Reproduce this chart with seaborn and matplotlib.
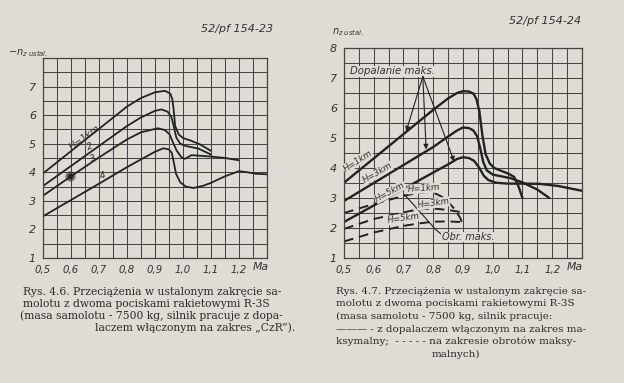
import numpy as np
import pandas as pd
import matplotlib
matplotlib.use("Agg")
import matplotlib.pyplot as plt
import seaborn as sns

# ---------------- data: Rys. 4.6 (left) ----------------
L_H1_MA = [0.50, 0.60, 0.70, 0.80, 0.85, 0.90, 0.936, 0.955, 0.962, 0.966, 0.972, 0.985, 1.00, 1.03, 1.06, 1.10]
L_H1_NZ = [3.96, 4.74, 5.52, 6.30, 6.60, 6.80, 6.85, 6.75, 6.55, 6.25, 5.62, 5.32, 5.20, 5.10, 4.98, 4.75]
L_H2_MA = [0.50, 0.60, 0.70, 0.80, 0.85, 0.90, 0.924, 0.945, 0.958, 0.966, 0.976, 0.99, 1.01, 1.055, 1.10]
L_H2_NZ = [3.52, 4.22, 4.92, 5.62, 5.92, 6.15, 6.20, 6.12, 5.95, 5.65, 5.22, 5.00, 4.92, 4.83, 4.62]
L_H3_MA = [0.50, 0.60, 0.70, 0.80, 0.85, 0.91, 0.935, 0.952, 0.966, 0.978, 0.995, 1.007, 1.03, 1.06, 1.10, 1.15, 1.20]
L_H3_NZ = [3.18, 3.86, 4.52, 5.15, 5.40, 5.54, 5.48, 5.33, 5.00, 4.75, 4.52, 4.47, 4.60, 4.58, 4.55, 4.50, 4.42]
L_H4_MA = [0.50, 0.60, 0.70, 0.80, 0.85, 0.90, 0.93, 0.95, 0.96, 0.966, 0.975, 0.99, 1.01, 1.037, 1.07, 1.10, 1.15, 1.20, 1.23, 1.26, 1.30]
L_H4_NZ = [2.46, 3.03, 3.60, 4.18, 4.45, 4.72, 4.84, 4.80, 4.68, 4.40, 3.95, 3.65, 3.50, 3.45, 3.52, 3.63, 3.86, 4.04, 4.00, 3.95, 3.93]
L_LABELS = ["H=1km", "2", "3", "4"]

# ---------------- data: Rys. 4.7 (right) ----------------
R_S1_MA = [0.50, 0.60, 0.70, 0.80, 0.85, 0.88, 0.90, 0.92, 0.935, 0.945, 0.955, 0.965, 0.976, 0.99, 1.005, 1.03, 1.055, 1.072, 1.086, 1.10]
R_S1_NZ = [3.51, 4.32, 5.13, 5.94, 6.32, 6.50, 6.56, 6.55, 6.48, 6.30, 5.90, 5.10, 4.46, 4.15, 4.00, 3.90, 3.80, 3.70, 3.40, 3.00]
R_S3_MA = [0.50, 0.60, 0.70, 0.80, 0.85, 0.88, 0.90, 0.92, 0.935, 0.948, 0.958, 0.968, 0.98, 1.00, 1.03, 1.06, 1.10, 1.15, 1.19]
R_S3_NZ = [2.90, 3.50, 4.10, 4.70, 5.05, 5.25, 5.35, 5.33, 5.25, 5.05, 4.65, 4.20, 3.92, 3.78, 3.72, 3.66, 3.52, 3.28, 3.00]
R_S5_MA = [0.50, 0.60, 0.70, 0.80, 0.85, 0.88, 0.90, 0.92, 0.937, 0.954, 0.97, 0.985, 1.01, 1.05, 1.10, 1.16, 1.22, 1.30]
R_S5_NZ = [2.20, 2.75, 3.30, 3.85, 4.12, 4.30, 4.36, 4.33, 4.24, 4.02, 3.74, 3.60, 3.51, 3.48, 3.48, 3.47, 3.40, 3.24]
R_D1_MA = [0.50, 0.60, 0.70, 0.75, 0.78, 0.81, 0.84, 0.87, 0.89, 0.90]
R_D1_NZ = [2.50, 2.80, 3.07, 3.17, 3.20, 3.14, 2.98, 2.65, 2.35, 2.10]
R_D3_MA = [0.50, 0.60, 0.70, 0.75, 0.80, 0.85, 0.90]
R_D3_NZ = [1.97, 2.30, 2.52, 2.62, 2.65, 2.60, 2.52]
R_D5_MA = [0.50, 0.60, 0.70, 0.75, 0.80, 0.85, 0.89]
R_D5_NZ = [1.55, 1.85, 2.07, 2.15, 2.21, 2.22, 2.20]

X_TICKS = [0.5, 0.6, 0.7, 0.8, 0.9, 1.0, 1.1, 1.2]
X_TICK_LABELS = ["0,5", "0,6", "0,7", "0,8", "0,9", "1,0", "1,1", "1,2"]

ARROW_FROM = (0.765, 7.05)
ARROW_TO = [(0.709, 5.22), (0.776, 4.62), (0.870, 4.22)]
OBR_LINE_MA = [0.703, 0.808, 0.826]
OBR_LINE_NZ = [3.12, 1.95, 1.80]

CAP_L = ["Rys. 4.6. Przeciążenia w ustalonym zakręcie sa-",
         "molotu z dwoma pociskami rakietowymi R-3S",
         "(masa samolotu - 7500 kg, silnik pracuje z dopa-",
         "laczem włączonym na zakres „CzR”)."]
CAP_R = ["Rys. 4.7. Przeciążenia w ustalonym zakręcie sa-",
         "molotu z dwoma pociskami rakietowymi R-3S",
         "(masa samolotu - 7500 kg, silnik pracuje:",
         "——— - z dopalaczem włączonym na zakres ma-",
         "ksymalny;  - - - - - na zakresie obrotów maksy-",
         "malnych)"]

# ---------------- style ----------------
BG = "#dfdcd5"
INK = "#232323"
GRID = "#454545"
sns.set_style("white", {"axes.facecolor": BG, "figure.facecolor": BG,
                        "axes.edgecolor": GRID})
plt.rcParams["font.family"] = ["DejaVu Sans"]

W, H = 624, 383
fig = plt.figure(figsize=(W / 100, H / 100), dpi=100)
fig.patch.set_facecolor(BG)


def px_axes(x0, y0, x1, y1):
    return fig.add_axes([x0 / W, 1 - y1 / H, (x1 - x0) / W, (y1 - y0) / H])


axL = px_axes(43, 58, 267, 258)
axR = px_axes(344, 48, 582, 258)

hand = dict(fontstyle="italic", color="#333333")


def setup(ax, ylabels):
    ax.set_facecolor(BG)
    ax.set_xlim(0.5, 1.3)
    ax.set_ylim(1, 8)
    ax.set_xticks(X_TICKS)
    ax.set_xticklabels(X_TICK_LABELS, fontsize=7.3, **hand)
    ax.set_xticks(np.arange(0.5, 1.3001, 0.05), minor=True)
    ax.set_yticks(range(1, 9))
    ax.set_yticklabels(ylabels, fontsize=8, **hand)
    ax.set_yticks(np.arange(1, 8.001, 0.5), minor=True)
    ax.grid(True, which="both", color=GRID, lw=0.75)
    ax.tick_params(which="both", length=0, pad=5)
    for s in ax.spines.values():
        s.set_color(GRID)
        s.set_linewidth(0.9)
    ax.set_xlabel("")
    ax.set_ylabel("")
    ax.text(1.277, 0.70, "Ma", fontsize=7.8, ha="center", va="center",
            transform=ax.transData, clip_on=False, **hand)


# ---------------- left chart ----------------
left_df = pd.concat([
    pd.DataFrame({"Ma": L_H1_MA, "nz": L_H1_NZ, "H": "1"}),
    pd.DataFrame({"Ma": L_H2_MA, "nz": L_H2_NZ, "H": "2"}),
    pd.DataFrame({"Ma": L_H3_MA, "nz": L_H3_NZ, "H": "3"}),
    pd.DataFrame({"Ma": L_H4_MA, "nz": L_H4_NZ, "H": "4"}),
])
sns.lineplot(data=left_df, x="Ma", y="nz", units="H", estimator=None, sort=False,
             color=INK, lw=1.3, ax=axL, legend=False)
setup(axL, ["1", "2", "3", "4", "5", "6", "7", ""])
lab_kw = dict(fontsize=6.8, ha="center", va="center", **hand)
axL.text(0.650, 5.22, L_LABELS[0], rotation=36, **lab_kw)
axL.text(0.668, 4.90, L_LABELS[1], rotation=20, **lab_kw)
axL.text(0.680, 4.47, L_LABELS[2], rotation=20, **lab_kw)
axL.text(0.712, 3.87, L_LABELS[3], rotation=20, **lab_kw)
# scan smudge
axL.scatter([0.597], [3.88], s=55, color="#2b2b2b", alpha=0.55, lw=0, zorder=1)
axL.scatter([0.597], [3.88], s=18, color="#1a1a1a", alpha=0.8, lw=0, zorder=1)

# ---------------- right chart ----------------
right_solid = pd.concat([
    pd.DataFrame({"Ma": R_S1_MA, "nz": R_S1_NZ, "H": "1"}),
    pd.DataFrame({"Ma": R_S3_MA, "nz": R_S3_NZ, "H": "3"}),
    pd.DataFrame({"Ma": R_S5_MA, "nz": R_S5_NZ, "H": "5"}),
])
right_dash = pd.concat([
    pd.DataFrame({"Ma": R_D1_MA, "nz": R_D1_NZ, "H": "1"}),
    pd.DataFrame({"Ma": R_D3_MA, "nz": R_D3_NZ, "H": "3"}),
    pd.DataFrame({"Ma": R_D5_MA, "nz": R_D5_NZ, "H": "5"}),
])
sns.lineplot(data=right_solid, x="Ma", y="nz", units="H", estimator=None, sort=False,
             color=INK, lw=1.7, ax=axR, legend=False)
sns.lineplot(data=right_dash, x="Ma", y="nz", units="H", estimator=None, sort=False,
             color=INK, lw=1.4, ax=axR, legend=False, dashes=False)
for ln in axR.lines[3:]:
    ln.set_dashes((5, 3))
setup(axR, ["1", "2", "3", "4", "5", "6", "7", "8"])

box = dict(facecolor=BG, edgecolor="none", pad=0.3)
axR.text(0.52, 7.22, "Dopalanie maks.", fontsize=7.3, ha="left", va="center",
         bbox=box, **hand)
for tx, ty in ARROW_TO:
    axR.annotate("", xy=(tx, ty), xytext=ARROW_FROM,
                 arrowprops=dict(arrowstyle="-|>", color=INK, lw=0.8,
                                 mutation_scale=7, shrinkA=0, shrinkB=0))
axR.plot(OBR_LINE_MA, OBR_LINE_NZ, color=INK, lw=0.8)
axR.text(0.828, 1.70, "Obr. maks.", fontsize=7, ha="left", va="center",
         bbox=box, **hand)
rl = dict(fontsize=6.2, ha="center", va="center", bbox=box, **hand)
axR.text(0.546, 4.24, "H=1km", rotation=33, **rl)
axR.text(0.612, 3.83, "H=3km", rotation=30, **rl)
axR.text(0.655, 3.20, "H=5km", rotation=28, **rl)
axR.text(0.770, 3.32, "H=1km", rotation=4, **rl)
axR.text(0.800, 2.82, "H=3km", rotation=8, **rl)
axR.text(0.700, 2.32, "H=5km", rotation=8, **rl)

# ---------------- headers & axis names ----------------
fig.text(237 / W, 1 - 29 / H, "52/pf 154-23", fontsize=8, ha="center", va="center", **hand)
fig.text(545 / W, 1 - 21 / H, "52/pf 154-24", fontsize=8, ha="center", va="center", **hand)
fig.text(8 / W, 1 - 53 / H, r"$-n_{z\ ustal.}$", fontsize=7, ha="left", va="center", color="#333333")
fig.text(332 / W, 1 - 32 / H, r"$n_{z\ ustal.}$", fontsize=7, ha="left", va="center", color="#333333")

# ---------------- captions ----------------
serif = dict(family="DejaVu Serif", color="#2a2a2a", va="center")
capL_pos = [(23, 292), (23, 304), (20, 316), (95, 328)]
capR_pos = [(336, 292), (336, 304), (336, 316), (336, 329), (336, 341), (432, 354)]
tl = [fig.text(x / W, 1 - y / H, s, fontsize=7, ha="left", **serif)
      for s, (x, y) in zip(CAP_L, capL_pos)]
tr = [fig.text(x / W, 1 - y / H, s, fontsize=7, ha="left", **serif)
      for s, (x, y) in zip(CAP_R, capR_pos)]
fig.canvas.draw()
rend = fig.canvas.get_renderer()
for group, target in ((tl, 260), (tr, 252)):
    w = group[0].get_window_extent(rend).width
    fs = 7 * target / w
    for t in group:
        t.set_fontsize(fs)

fig.savefig("out.png", dpi=100, facecolor=BG)
